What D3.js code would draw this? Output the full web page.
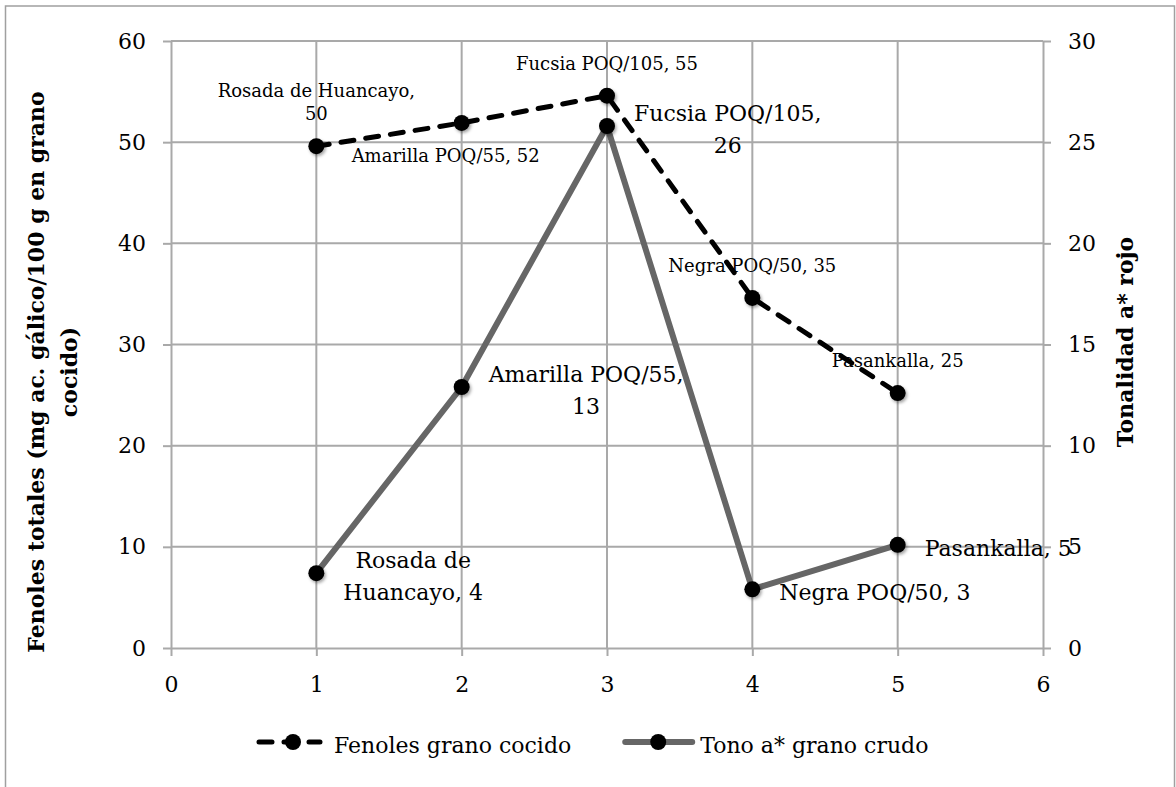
<!DOCTYPE html>
<html>
<head>
<meta charset="utf-8">
<script src="https://cdn.jsdelivr.net/npm/d3@7/dist/d3.min.js"></script>
<style>
  html, body { margin: 0; padding: 0; background: #fff; }
  svg { display: block; font-family: "DejaVu Serif", "Liberation Serif", serif; }
</style>
</head>
<body>
<svg id="chart" width="1176" height="787"></svg>
<script>
// Quinoa varieties, plotted at positions 1..5
const xPositions = [1, 2, 3, 4, 5];
const varieties = ["Rosada de Huancayo", "Amarilla POQ/55", "Fucsia POQ/105", "Negra POQ/50", "Pasankalla"];

// Total phenols, cooked grain (mg gallic acid / 100 g) — left axis
const fenolesCocido = [49.6, 51.9, 54.6, 34.6, 25.2];
// Red hue a*, raw grain — right axis
const tonoCrudo = [3.7, 12.9, 25.8, 2.9, 5.1];

const seriesNames = ["Fenoles grano cocido", "Tono a* grano crudo"];
const xTicks = [0, 1, 2, 3, 4, 5, 6];
const leftTicks = [0, 10, 20, 30, 40, 50, 60];
const rightTicks = [0, 5, 10, 15, 20, 25, 30];
const leftTitle = ["Fenoles totales (mg ac. gálico/100 g en grano", "cocido)"];
const rightTitle = "Tonalidad a* rojo";

// where each data label sits relative to its point
const fenolesLabelPlacement = ["above", "below", "above", "above", "above"];

const svg = d3.select("#chart");
const W = 1176, H = 787;
const plot = { left: 171, right: 1043, top: 41, bottom: 648 };
const GRID = "#a9a9a9";

const x = d3.scaleLinear().domain([0, 6]).range([plot.left, plot.right]);
const yL = d3.scaleLinear().domain([0, 60]).range([plot.bottom, plot.top]);
const yR = d3.scaleLinear().domain([0, 30]).range([plot.bottom, plot.top]);
const fmt = d3.format(".0f");

// soft shadow under the markers
const defs = svg.append("defs");
defs.append("filter").attr("id", "mshadow")
  .attr("x", "-50%").attr("y", "-50%").attr("width", "200%").attr("height", "200%")
  .append("feDropShadow")
  .attr("dx", 1.5).attr("dy", 2).attr("stdDeviation", 1.6)
  .attr("flood-color", "#000").attr("flood-opacity", 0.35);

// outer frame
svg.append("rect")
  .attr("x", 5.5).attr("y", 6).attr("width", 1169).attr("height", 820)
  .attr("fill", "none").attr("stroke", "#a0a0a0").attr("stroke-width", 1.5);

// gridlines
const grid = svg.append("g").attr("stroke", GRID).attr("stroke-width", 2);
grid.selectAll("line.h").data(leftTicks.slice(1)).join("line")
  .attr("x1", plot.left).attr("x2", plot.right)
  .attr("y1", d => yL(d)).attr("y2", d => yL(d));
grid.selectAll("line.v").data(xTicks.slice(1, -1)).join("line")
  .attr("x1", d => x(d)).attr("x2", d => x(d))
  .attr("y1", plot.top).attr("y2", plot.bottom);

function styleAxis(g) {
  g.select(".domain").attr("stroke", GRID).attr("stroke-width", 2);
  g.selectAll(".tick line").attr("stroke", GRID).attr("stroke-width", 2);
  g.selectAll(".tick text").attr("fill", "#000").attr("font-size", 22)
    .attr("font-family", '"DejaVu Serif", serif');
}

svg.append("g").attr("transform", `translate(0,${plot.bottom})`)
  .call(d3.axisBottom(x).tickValues(xTicks).tickFormat(d3.format("d"))
    .tickSize(8).tickSizeOuter(0).tickPadding(20))
  .call(styleAxis);

svg.append("g").attr("transform", `translate(${plot.left},0)`)
  .call(d3.axisLeft(yL).tickValues(leftTicks).tickFormat(d3.format("d"))
    .tickSize(8).tickSizeOuter(0).tickPadding(17))
  .call(styleAxis);

svg.append("g").attr("transform", `translate(${plot.right},0)`)
  .call(d3.axisRight(yR).tickValues(rightTicks).tickFormat(d3.format("d"))
    .tickSize(8).tickSizeOuter(0).tickPadding(17))
  .call(styleAxis);

// axis titles
const lt = svg.append("g").attr("font-weight", "bold").attr("font-size", 22).attr("fill", "#000");
lt.selectAll("text").data(leftTitle).join("text")
  .attr("text-anchor", "middle")
  .attr("transform", (d, i) => `translate(${44 + i * 33},372) rotate(-90)`)
  .text(d => d);

svg.append("text")
  .attr("font-weight", "bold").attr("font-size", 22).attr("fill", "#000")
  .attr("text-anchor", "middle")
  .attr("transform", "translate(1133,342) rotate(-90)")
  .text(rightTitle);

// series
const fenolesPts = xPositions.map((p, i) => ({ x: x(p), y: yL(fenolesCocido[i]), v: fenolesCocido[i], name: varieties[i], i }));
const tonoPts = xPositions.map((p, i) => ({ x: x(p), y: yR(tonoCrudo[i]), v: tonoCrudo[i], name: varieties[i], i }));

const line = d3.line().x(d => d.x).y(d => d.y);

svg.append("path").datum(fenolesPts)
  .attr("d", line).attr("fill", "none")
  .attr("stroke", "#000").attr("stroke-width", 5)
  .attr("stroke-dasharray", "13 12").attr("stroke-linecap", "round");
svg.append("g").attr("filter", "url(#mshadow)")
  .selectAll("circle").data(fenolesPts).join("circle")
  .attr("cx", d => d.x).attr("cy", d => d.y).attr("r", 8).attr("fill", "#000");

svg.append("path").datum(tonoPts)
  .attr("d", line).attr("fill", "none")
  .attr("stroke", "#666666").attr("stroke-width", 6)
  .attr("stroke-linejoin", "round").attr("stroke-linecap", "round");
svg.append("g").attr("filter", "url(#mshadow)")
  .selectAll("circle").data(tonoPts).join("circle")
  .attr("cx", d => d.x).attr("cy", d => d.y).attr("r", 8).attr("fill", "#000");

// wrap a label into lines no wider than maxW
function wrapLines(str, size, maxW) {
  const probe = svg.append("text").attr("font-size", size).attr("visibility", "hidden");
  const words = str.split(" ");
  const lines = [];
  let cur = "";
  for (const w of words) {
    const test = cur ? cur + " " + w : w;
    probe.text(test);
    if (cur && probe.node().getComputedTextLength() > maxW) { lines.push(cur); cur = w; }
    else cur = test;
  }
  if (cur) lines.push(cur);
  const widths = lines.map(l => { probe.text(l); return probe.node().getComputedTextLength(); });
  probe.remove();
  return { lines, width: d3.max(widths) };
}

// labels of the phenol series (small, above / below points)
const labelsG = svg.append("g").attr("fill", "#000");
fenolesPts.forEach(d => {
  const size = 18, lh = 23;
  const { lines } = wrapLines(`${d.name}, ${fmt(d.v)}`, size, 205);
  const place = fenolesLabelPlacement[d.i];
  const cx = place === "below" ? d.x - 16 : d.x;
  const firstBase = place === "below" ? d.y + 39 : d.y - 26 - (lines.length - 1) * lh;
  const t = labelsG.append("text").attr("font-size", size).attr("text-anchor", "middle");
  lines.forEach((l, k) => t.append("tspan").attr("x", cx).attr("y", firstBase + k * lh).text(l));
});

// labels of the hue series (larger, right of points)
tonoPts.forEach(d => {
  const size = 22, lh = 32;
  const { lines, width } = wrapLines(`${d.name}, ${fmt(d.v)}`, size, 205);
  const cx = d.x + 27 + width / 2;
  const firstBase = d.y + 11 - (lines.length - 1) * lh / 2;
  const t = labelsG.append("text").attr("font-size", size).attr("text-anchor", "middle");
  lines.forEach((l, k) => t.append("tspan").attr("x", cx).attr("y", firstBase + k * lh).text(l));
});

// legend
const legend = svg.append("g");
const ly = 742;
let lx = 257;
seriesNames.forEach((name, i) => {
  const g = legend.append("g");
  if (i === 0) {
    g.append("line").attr("x1", lx + 2).attr("x2", lx + 63).attr("y1", ly).attr("y2", ly)
      .attr("stroke", "#000").attr("stroke-width", 5)
      .attr("stroke-dasharray", "13 12").attr("stroke-linecap", "round");
  } else {
    g.append("line").attr("x1", lx + 3).attr("x2", lx + 70).attr("y1", ly).attr("y2", ly)
      .attr("stroke", "#666666").attr("stroke-width", 6).attr("stroke-linecap", "round");
  }
  const mx = i === 0 ? lx + 36 : lx + 36;
  g.append("circle").attr("cx", mx).attr("cy", ly).attr("r", 8).attr("fill", "#000");
  const tx = i === 0 ? lx + 77 : lx + 78;
  const t = g.append("text").attr("x", tx).attr("y", ly + 11).attr("font-size", 22).attr("fill", "#000").text(name);
  lx = tx + t.node().getComputedTextLength() + 51;
});
</script>
</body>
</html>
